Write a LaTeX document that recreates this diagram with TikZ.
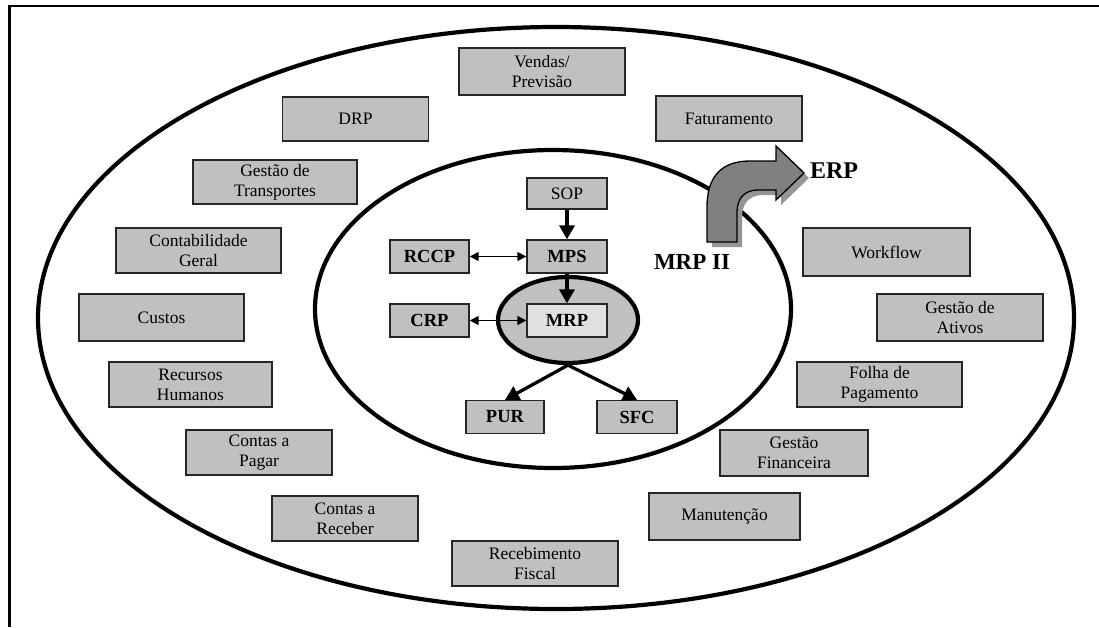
\documentclass[tikz,border=0pt]{standalone}
\usepackage{fontspec}
\setmainfont{Liberation Serif}
\usetikzlibrary{arrows.meta,shapes.geometric}
\definecolor{boxgray}{HTML}{C0C0C0}
\definecolor{mrpbox}{HTML}{E0E0E0}
\definecolor{arrowgray}{HTML}{808080}
\definecolor{shadowgray}{HTML}{959595}
\begin{document}
\begin{tikzpicture}[x=1pt,y=-1pt,
  mod/.style={draw=black!85, fill=boxgray, line width=1.3pt, inner sep=0pt, align=center,
    font=\fontsize{17.5}{20}\selectfont},
  core/.style={mod, font=\fontsize{18.5}{20}\selectfont\bfseries},
  ring/.style={draw, ellipse, line width=4.2pt, inner sep=0pt},
  flow/.style={line width=3.3pt, -{Triangle[length=14pt,width=15pt]}},
  link/.style={line width=1.3pt, {Triangle[length=9pt,width=9pt]}-{Triangle[length=9pt,width=9pt]}},
  biglabel/.style={font=\fontsize{23}{23}\selectfont\bfseries, inner sep=0pt}]
\useasboundingbox (0,0) rectangle (1099,627);
% frame
\draw[line width=2.5pt] (9.5,627) -- (9.5,6) -- (1099,6);
% rings
\node[ring, minimum width=1036, minimum height=582] (erpring) at (556,318) {};
\node[ring, minimum width=476, minimum height=318] (mrpiiring) at (553,309) {};
\node[ring, fill=boxgray, minimum width=140, minimum height=86] (mrpring) at (568,320) {};
% outer modules
\node[mod, minimum width=166, minimum height=47] (vendas) at (542,71.5) {Vendas/\\Previsão};
\node[mod, minimum width=146, minimum height=44] (drp) at (355.5,119) {DRP};
\node[mod, minimum width=146, minimum height=45] (fat) at (729,118.5) {Faturamento};
\node[mod, minimum width=164, minimum height=44] (transp) at (275,182) {Gestão de\\Transportes};
\node[mod, minimum width=165, minimum height=45] (contab) at (198.5,250.5) {Contabilidade\\Geral};
\node[mod, minimum width=165, minimum height=47] (custos) at (161.5,317.5) {Custos};
\node[mod, minimum width=163, minimum height=45] (rh) at (190.5,384.5) {Recursos\\Humanos};
\node[mod, minimum width=146, minimum height=45] (pagar) at (259,452.5) {Contas a\\Pagar};
\node[mod, minimum width=146, minimum height=45] (receber) at (345,518.5) {Contas a\\Receber};
\node[mod, minimum width=166, minimum height=45] (receb) at (535,563.5) {Recebimento\\Fiscal};
\node[mod, minimum width=151, minimum height=47] (manut) at (724.5,516.5) {Manutenção};
\node[mod, minimum width=148, minimum height=46] (financ) at (794,453) {Gestão\\Financeira};
\node[mod, minimum width=165, minimum height=45] (folha) at (879.5,384.5) {Folha de\\Pagamento};
\node[mod, minimum width=166, minimum height=47] (ativos) at (960,317.5) {Gestão de\\Ativos};
\node[mod, minimum width=167, minimum height=48] (workflow) at (886.5,252) {Workflow};
% core modules
\node[mod, minimum width=80, minimum height=31] (sop) at (567,193.5) {SOP};
\node[core, minimum width=80, minimum height=33] (mps) at (567,256.5) {MPS};
\node[core, minimum width=79, minimum height=33] (rccp) at (429.5,256.5) {RCCP};
\node[core, minimum width=79, minimum height=33] (crp) at (429.5,320.5) {CRP};
\node[core, fill=mrpbox, minimum width=80, minimum height=33] (mrp) at (567,320.5) {MRP};
\node[core, minimum width=78, minimum height=33] (pur) at (505,417) {PUR};
\node[core, minimum width=80, minimum height=33] (sfc) at (637,417) {SFC};
% connectors
\draw[flow] (sop) -- (mps);
\draw[flow] (mps) -- (mrp);
\draw[link] (rccp) -- (mps);
\draw[link] (crp) -- (mrp);
\draw[flow] (mrpring.south) -- (pur.north);
\draw[flow] (mrpring.south) -- (sfc.north);
% ERP arrow (shadow, then body)
\fill[shadowgray, shift={(5,5)}] (707,242) -- (707,207) .. controls (707,176) and (722,161) .. (750,161)
  -- (776,161) -- (776,146) -- (804,173) -- (776,200) -- (776,190) -- (758,190)
  .. controls (745,190) and (737,198) .. (737,212) -- (737,242) -- cycle;
\draw[fill=arrowgray, line width=1.3pt, line join=miter] (707,242) -- (707,207) .. controls (707,176) and (722,161) .. (750,161)
  -- (776,161) -- (776,146) -- (804,173) -- (776,200) -- (776,190) -- (758,190)
  .. controls (745,190) and (737,198) .. (737,212) -- (737,242) -- cycle;
% labels
\node[biglabel] (mrpii) at (692,262) {MRP II};
\node[biglabel, font=\fontsize{24}{24}\selectfont\bfseries] (erp) at (834,171) {ERP};
\end{tikzpicture}
\end{document}
